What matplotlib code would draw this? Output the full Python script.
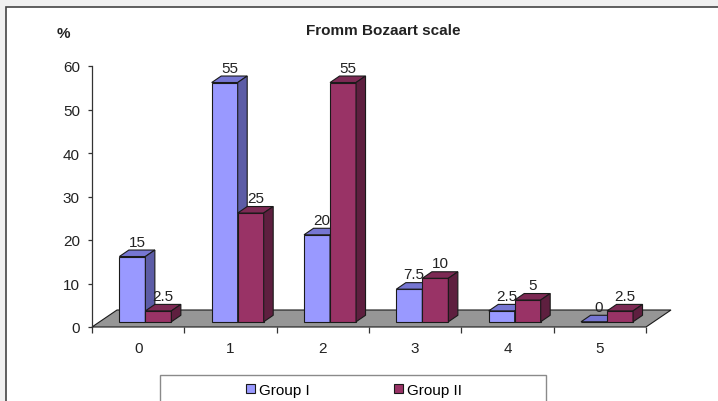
# Fromm Bozaart scale: 3D-style grouped bar chart (Group I vs Group II)
import matplotlib
matplotlib.use("Agg")
import matplotlib.pyplot as plt
from matplotlib.patches import Polygon, Rectangle, Patch

plt.rcParams['font.family'] = ['Liberation Sans', 'DejaVu Sans']

# --- data ---
categories = ['0', '1', '2', '3', '4', '5']
group1 = [15, 55, 20, 7.5, 2.5, 0]
group2 = [2.5, 25, 55, 10, 5, 2.5]
series_names = ['Group I', 'Group II']

# --- colours (front, top, side) ---
COL_1 = ('#9999ff', '#7676d2', '#5c5ca6')
COL_2 = ('#993366', '#7d2a54', '#5e1f3f')
FLOOR = '#969696'
EDGE = '#1a1a1a'
FS = 11

W, H = 718, 402
fig = plt.figure(figsize=(W / 100, H / 100), dpi=100, facecolor='#f0f0f0')

# white chart area with dark frame
fig.patches.append(Rectangle((6 / W, -0.1), 1.2, (H - 8) / H + 0.1,
                             transform=fig.transFigure, facecolor='white',
                             edgecolor='#444444', linewidth=1.2, zorder=-2))

# plot area in pixels: x 92..646, y 67..328 (from top)
ax = fig.add_axes([92 / W, (H - 328) / H, (646 - 92) / W, (328 - 67) / H])
ax.set_zorder(1)
ax.set_facecolor('none')
ax.set_xlim(0, len(categories))
ax.set_ylim(0, 60)

# depth offsets in data units
px_x = (646 - 92) / len(categories)
px_y = (328 - 67) / 60
floor_dx, floor_dy = 25 / px_x, 17 / px_y
bar_dx, bar_dy = 9.5 / px_x, 6.5 / px_y
shift_x, base_y = 7.2 / px_x, 1.2
bar_w = 26 / px_x

# floor
n = len(categories)
ax.add_patch(Polygon([(0, 0), (n, 0), (n + floor_dx, floor_dy), (floor_dx, floor_dy)],
                     closed=True, facecolor=FLOOR, edgecolor=EDGE, linewidth=0.8,
                     clip_on=False, zorder=1))


def draw_bar(x0, v, cols):
    x1 = x0 + bar_w
    b = base_y
    t = b + v
    front = Polygon([(x0, b), (x1, b), (x1, t), (x0, t)], closed=True)
    top = Polygon([(x0, t), (x1, t), (x1 + bar_dx, t + bar_dy), (x0 + bar_dx, t + bar_dy)], closed=True)
    side = Polygon([(x1, b), (x1 + bar_dx, b + bar_dy), (x1 + bar_dx, t + bar_dy), (x1, t)], closed=True)
    for p, c in zip((front, top, side), cols):
        p.set_facecolor(c)
        p.set_edgecolor(EDGE)
        p.set_linewidth(0.8)
        p.set_clip_on(False)
        p.set_zorder(2)
        ax.add_patch(p)
    ax.annotate(f'{v:g}', (x0 + bar_w / 2 + bar_dx / 2, t + bar_dy), xytext=(0, 6),
                textcoords='offset points', ha='center', va='center',
                fontsize=FS, color='#222222', zorder=3, annotation_clip=False)


for i in range(n):
    c = i + 0.5 + shift_x
    draw_bar(c - bar_w, group1[i], COL_1)
    draw_bar(c, group2[i], COL_2)

# axes styling
for s in ('top', 'right', 'bottom'):
    ax.spines[s].set_visible(False)
ax.spines['left'].set_color('#333333')
ax.spines['left'].set_linewidth(0.9)

ax.set_yticks(range(0, 61, 10))
ax.tick_params(axis='y', direction='out', length=3.2, width=0.9, color='#333333',
               pad=5.5, labelsize=FS, labelcolor='#222222')

ax.set_xticks(range(0, n + 1))
ax.set_xticklabels([])
ax.set_xticks([i + 0.5 for i in range(n)], minor=True)
ax.set_xticklabels(categories, minor=True)
ax.tick_params(axis='x', which='major', direction='out', length=4, width=0.9, color='#333333')
ax.tick_params(axis='x', which='minor', length=0, pad=10, labelsize=FS, labelcolor='#222222')

# title and unit label
fig.text(383 / W, 1 - 31 / H, 'Fromm Bozaart scale', ha='center', va='center',
         fontsize=FS, fontweight='bold', color='#222222')
fig.text(63 / W, 1 - 34 / H, '%', ha='center', va='center', fontsize=FS,
         fontweight='bold', color='#222222')

# legend box (runs off the bottom edge)
fig.patches.append(Rectangle((160 / W, -0.1), (546 - 160) / W, 0.1 + (H - 376) / H,
                             transform=fig.transFigure, facecolor='white',
                             edgecolor='#8a8a8a', linewidth=1.0, zorder=1))
handles = [Patch(facecolor=COL_1[0], edgecolor=EDGE, linewidth=0.8),
           Patch(facecolor=COL_2[0], edgecolor=EDGE, linewidth=0.8)]
fig.legend(handles, series_names, loc='center left', bbox_to_anchor=(246 / W, 1 - 391 / H),
           ncol=2, frameon=False, fontsize=FS, handlelength=0.6, handleheight=0.6,
           handletextpad=0.25, columnspacing=5.5, borderpad=0, borderaxespad=0)

fig.savefig('out.png', dpi=100, facecolor=fig.get_facecolor())
